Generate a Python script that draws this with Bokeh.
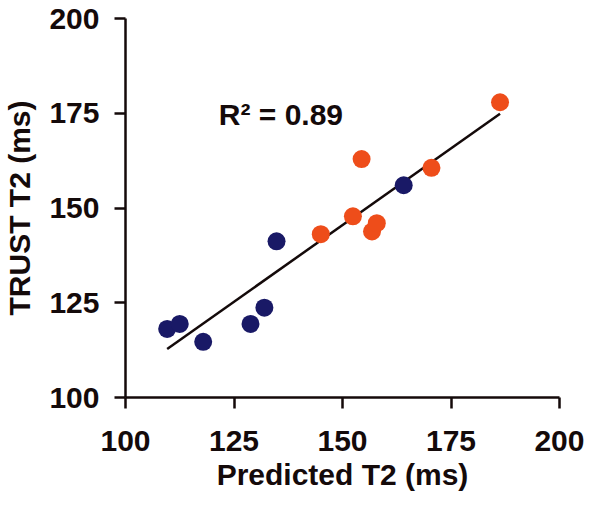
import numpy as np
from bokeh.plotting import figure
from bokeh.models import Range1d, Label, FixedTicker
from bokeh.embed import file_html
from bokeh.resources import INLINE

# Data
blue_x = [109.6, 112.5, 117.9, 128.8, 132.0, 134.8, 164.1]
blue_y = [118.1, 119.4, 114.7, 119.4, 123.7, 141.2, 156.0]
orange_x = [145.0, 152.4, 154.4, 156.8, 157.9, 170.5, 186.3]
orange_y = [143.1, 147.8, 162.9, 143.8, 146.0, 160.6, 177.9]
ticks = [100, 125, 150, 175, 200]
r2_text = "R\u00b2 = 0.89"
x_title = "Predicted T2 (ms)"
y_title = "TRUST T2 (ms)"

all_x = np.array(blue_x + orange_x)
all_y = np.array(blue_y + orange_y)
slope, intercept = np.polyfit(all_x, all_y, 1)
fit_x = [all_x.min(), all_x.max()]
fit_y = [slope * v + intercept for v in fit_x]

FONT = "Liberation Sans"
INK = "#140a0a"

p = figure(width=584, height=497, output_backend="svg", toolbar_location=None,
           x_range=Range1d(100, 200), y_range=Range1d(100, 200),
           min_border_left=120, min_border_right=25, min_border_top=18, min_border_bottom=100)
p.outline_line_color = None
p.grid.visible = False
p.background_fill_color = "white"

for ax in (p.xaxis[0], p.yaxis[0]):
    ax.ticker = FixedTicker(ticks=ticks)
    ax.axis_line_width = 2.5
    ax.axis_line_color = INK
    ax.major_tick_line_width = 2.5
    ax.major_tick_line_color = INK
    ax.major_tick_in = 0
    ax.major_tick_out = 11
    ax.minor_tick_line_color = None
    ax.major_label_text_font = FONT
    ax.major_label_text_font_style = "bold"
    ax.major_label_text_font_size = "30px"
    ax.major_label_text_color = INK
    ax.axis_label_text_font = FONT
    ax.axis_label_text_font_style = "bold"
    ax.axis_label_text_font_size = "30px"
    ax.axis_label_text_color = INK

p.xaxis.axis_label = x_title
p.yaxis.axis_label = y_title
p.xaxis.major_label_standoff = 22
p.yaxis.major_label_standoff = 15
p.xaxis.axis_label_standoff = 4
p.yaxis.axis_label_standoff = 10

p.line(fit_x, fit_y, line_color=INK, line_width=2.5)
p.scatter(blue_x, blue_y, size=18, fill_color="#191966", line_color=None)
p.scatter(orange_x, orange_y, size=18, fill_color="#EE4D1A", line_color=None)

p.add_layout(Label(x=121.5, y=174.8, text=r2_text, text_font=FONT, text_font_style="bold",
                   text_font_size="30px", text_color=INK, text_baseline="alphabetic",
                   text_align="left"))

open("out.html", "w").write(file_html(p, INLINE))
